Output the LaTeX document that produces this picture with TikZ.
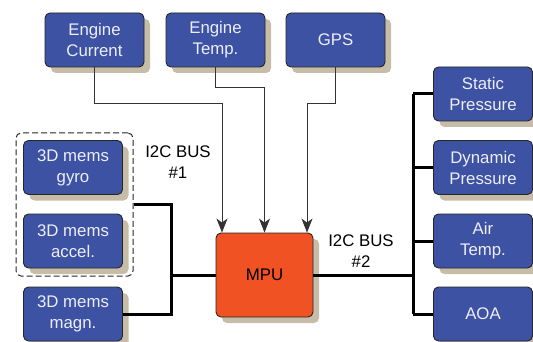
\documentclass[tikz,border=0pt]{standalone}
\usepackage{fontspec}
\setmainfont{Liberation Sans}
\usetikzlibrary{arrows.meta,shadows}
\definecolor{boxblue}{RGB}{62,82,164}
\definecolor{mpuorange}{RGB}{240,82,35}
\definecolor{shadowtan}{RGB}{198,188,168}
\definecolor{boxtext}{RGB}{236,238,248}

\begin{document}
\begin{tikzpicture}[x=1pt,y=-1pt,
    block/.style={rectangle, rounded corners=5pt, draw=black!85, line width=0.9pt,
        fill=boxblue, text=boxtext, minimum width=99pt, minimum height=54pt,
        inner sep=0pt, align=center, font=\fontsize{16.8}{21}\selectfont,
        drop shadow={shadow xshift=6pt, shadow yshift=-6pt, fill=shadowtan, opacity=1}},
    cpu/.style={block, fill=mpuorange, text=black, minimum width=97pt, minimum height=84pt},
    grp/.style={rectangle, rounded corners=5pt, draw=black!85, line width=1pt,
        dash pattern=on 6pt off 3pt},
    lbl/.style={align=center, font=\fontsize{16.8}{21}\selectfont},
    sig/.style={draw=black!80, line width=0.9pt, -{Stealth[length=14pt,width=11pt,inset=4pt]}},
    bus/.style={draw=black, line width=3pt}]
\useasboundingbox (0,0) rectangle (533,342);
                    % Nodes
                    \node[grp, minimum width=117pt, minimum height=143pt] (imu) at (74.5,204.5) {};
                    \node[block] (ecur) at (94.5,40) {Engine\\Current};
                    \node[block] (etmp) at (215.5,40) {Engine\\Temp.};
                    \node[block] (gps) at (335.5,40) {GPS};
                    \node[block] (gyro) at (73,167.5) {3D mems\\gyro};
                    \node[block] (accel) at (73,241) {3D mems\\accel.};
                    \node[block] (magn) at (73,314) {3D mems\\magn.};
                    \node[cpu] (mpu) at (264.5,275) {MPU};
                    \node[block] (stat) at (483,94) {Static\\Pressure};
                    \node[block] (dyn) at (483,167.5) {Dynamic\\Pressure};
                    \node[block] (air) at (483,241) {Air\\Temp.};
                    \node[block] (aoa) at (483,314) {AOA};
                    \node[lbl] (bus1) at (178,162) {I2C BUS\\\#1};
                    \node[lbl] (bus2) at (361,251) {I2C BUS\\\#2};
                    \coordinate (b1) at (171,275);
                    \coordinate (b2) at (413,275);
                    % Edges
                    \draw[sig] (ecur.south) -- (ecur.south |- 0,103) -| ([xshift=-42.5pt]mpu.north);
                    \draw[sig] (etmp.south) -- (etmp.south |- 0,87) -| (mpu.north);
                    \draw[sig] (gps.south) -- (gps.south |- 0,103) -| ([xshift=42.5pt]mpu.north);
                    \draw[bus] (imu.east) -| (b1) |- (magn.east);
                    \draw[bus] (b1) -- (mpu.west);
                    \draw[bus] (mpu.east) -- (b2);
                    \draw[bus] (b2 |- stat.west) -- (b2 |- aoa.west);
                    \foreach \s in {stat,dyn,air,aoa}
                        \draw[bus] (b2 |- \s.west) -- (\s.west);
                \end{tikzpicture}
\end{document}
